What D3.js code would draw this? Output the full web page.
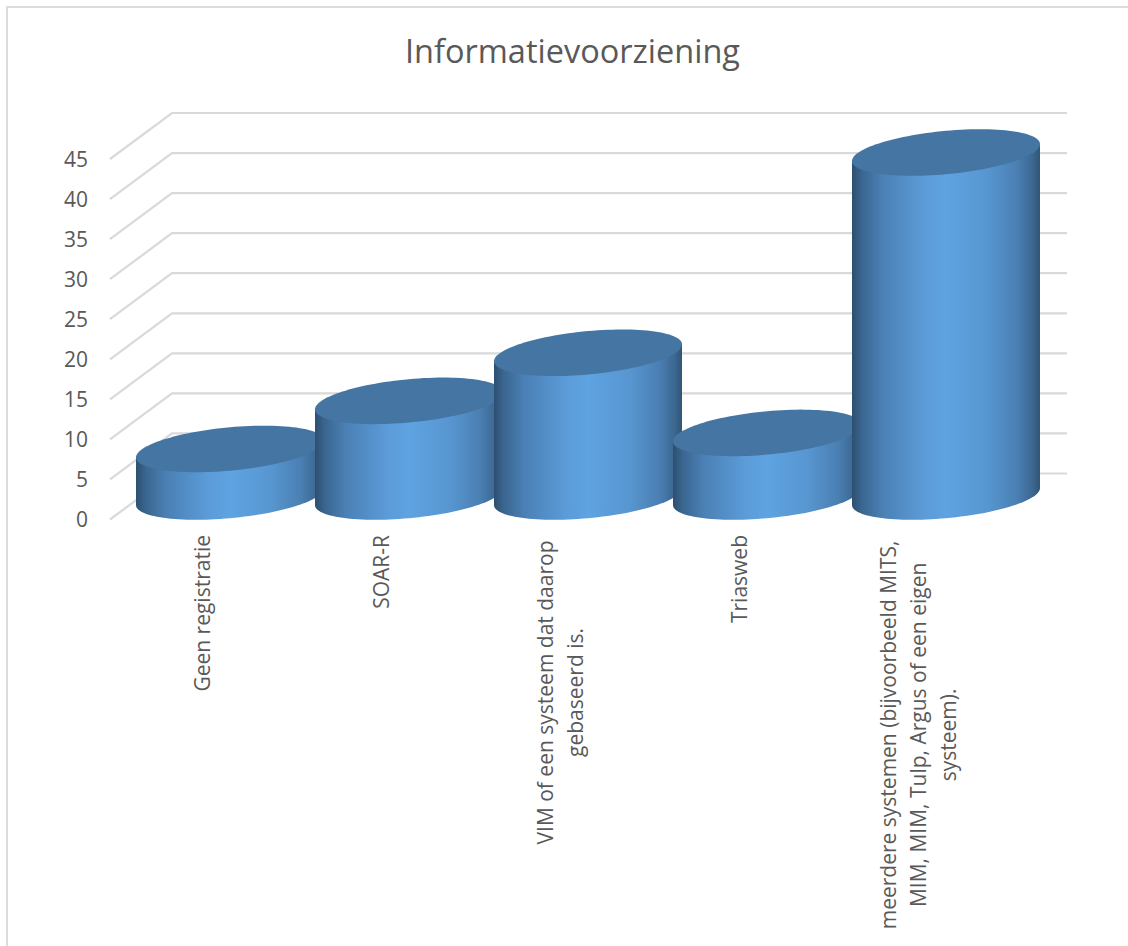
<!DOCTYPE html>
<html>
<head>
<meta charset="utf-8">
<script src="https://cdnjs.cloudflare.com/ajax/libs/d3/7.8.5/d3.min.js"></script>
<style>
  html, body { margin: 0; padding: 0; background: #fff; }
  svg { display: block; }
  text { font-family: "Open Sans", sans-serif; fill: #595959; }
</style>
</head>
<body>
<div id="chart"></div>
<script>
const title = 'Informatievoorziening';
const categories = [
  ['Geen registratie'],
  ['SOAR-R'],
  ['VIM of een systeem dat daarop', 'gebaseerd is.'],
  ['Triasweb'],
  ['meerdere systemen (bijvoorbeeld MITS,', 'MIM, MIM, Tulp, Argus of een eigen', 'systeem).']
];
const values = [6, 12, 18, 8, 43];
const yTicks = [0, 5, 10, 15, 20, 25, 30, 35, 40, 45];

const width = 1128;
const height = 946;

const svg = d3.select('#chart').append('svg')
  .attr('width', width)
  .attr('height', height);

// chart frame
svg.append('path')
  .attr('d', `M7,${height} V7 H${width}`)
  .attr('fill', 'none')
  .attr('stroke', '#dcdcdc')
  .attr('stroke-width', 2);

svg.append('text')
  .attr('x', 572.5)
  .attr('y', 63)
  .attr('text-anchor', 'middle')
  .style('font-size', '32.5px')
  .text(title);

// front edge of the floor, the walls sit depth px further back
const yScale = d3.scaleLinear().domain([0, 45]).range([519.5, 159]);
const xScale = d3.scaleBand().domain(d3.range(values.length)).range([140.5, 1035.5]);
const depthX = 62;
const depthY = 46;
const wallRight = 1067;

const grid = svg.append('g').attr('class', 'gridlines');
grid.selectAll('path')
  .data(yTicks)
  .join('path')
  .attr('d', d => {
    const y = yScale(d);
    return `M110,${y} L${110 + depthX},${y - depthY} H${wallRight}`;
  })
  .attr('fill', 'none')
  .attr('stroke', '#d9d9d9')
  .attr('stroke-width', 2.2);

svg.append('g').selectAll('text')
  .data(yTicks)
  .join('text')
  .attr('x', 88)
  .attr('y', d => yScale(d) + 7.5)
  .attr('text-anchor', 'end')
  .style('font-size', '21px')
  .text(d => d);

const defs = svg.append('defs');
const grad = defs.append('linearGradient').attr('id', 'side');
[[0, '#2d4f70'], [0.05, '#3a658f'], [0.16, '#4a80b4'], [0.38, '#5b9bd8'], [0.5, '#5fa3e2'],
 [0.72, '#5796d0'], [0.88, '#4a7fb2'], [0.96, '#3c6791'], [1, '#315675']]
  .forEach(([o, c]) => grad.append('stop').attr('offset', o).attr('stop-color', c));

const rx = 94;
const ry = 21.7;
const tilt = -0.09;
const line = d3.line();

// point on the sheared ellipse of a cylinder cap
function cap(cx, cy, a) {
  const dx = rx * Math.cos(a);
  return [cx + dx, cy + ry * Math.sin(a) + tilt * dx];
}

const halfTurn = d3.range(0, 61).map(i => i / 60 * Math.PI);
const fullTurn = d3.range(0, 121).map(i => i / 120 * 2 * Math.PI);

const bars = svg.append('g').attr('class', 'bars')
  .selectAll('g')
  .data(values)
  .join('g');

bars.each(function (v, i) {
  const g = d3.select(this);
  const cx = xScale(i) + xScale.bandwidth() / 2;
  const floorY = yScale(0) - depthY / 2;
  const topY = yScale(v) - depthY / 2 + 0.5;
  const side = halfTurn.map(a => cap(cx, floorY, a));
  side.push(cap(cx, topY, Math.PI), cap(cx, topY, 0));
  g.append('path').attr('d', line(side) + 'Z').attr('fill', 'url(#side)');
  g.append('path').attr('d', line(fullTurn.map(a => cap(cx, topY, a))) + 'Z').attr('fill', '#4475a3');
});

// rotated category labels, lines centred on each other, block centred on the bar
const labels = svg.append('g').selectAll('g')
  .data(categories)
  .join('g');

labels.each(function (lines, i) {
  const g = d3.select(this);
  const x = xScale(i) + xScale.bandwidth() / 2 - 20.5 - (lines.length - 1) * 15;
  const texts = g.selectAll('text')
    .data(lines)
    .join('text')
    .attr('text-anchor', 'middle')
    .style('font-size', '21px')
    .text(d => d);
  const longest = d3.max(texts.nodes(), n => n.getComputedTextLength());
  const top = lines.length > 1 ? 540.5 : 535;
  texts.attr('transform', (d, j) => `translate(${x + j * 30},${top + longest / 2}) rotate(-90)`);
});
</script>
</body>
</html>
